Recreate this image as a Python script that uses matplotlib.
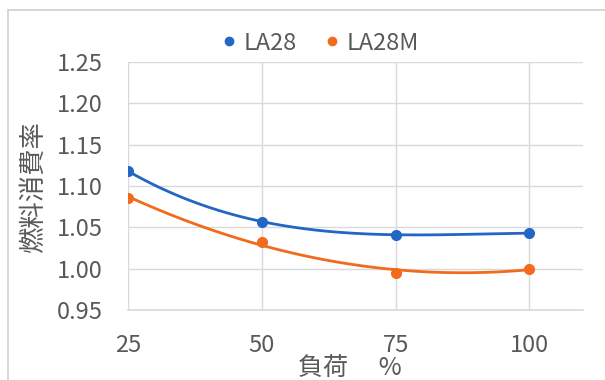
import numpy as np
import matplotlib

matplotlib.use("Agg")
import matplotlib.pyplot as plt
from matplotlib.lines import Line2D
from matplotlib.patches import Rectangle

plt.rcParams["font.family"] = ["Noto Sans CJK JP", "DejaVu Sans"]

# load (%) and relative fuel consumption for each engine
load = [25, 50, 75, 100]
la28 = [1.118, 1.057, 1.041, 1.043]
la28m = [1.086, 1.032, 0.995, 1.000]
series_names = ["LA28", "LA28M"]
series_colors = ["#2366c4", "#f26a1c"]
trend_order = [3, 2]  # polynomial order of each trendline
y_ticks = [0.95, 1.00, 1.05, 1.10, 1.15, 1.20, 1.25]
x_ticks = [25, 50, 75, 100]

TEXT = "#595959"
GRID = "#d9d9d9"

fig = plt.figure(figsize=(6.05, 3.8), dpi=100)
fig.patches.append(Rectangle((8 / 605, -0.05), 1.1, 1 - 10 / 380 + 0.05,
                             transform=fig.transFigure, fill=False,
                             edgecolor="#d0d0d0", linewidth=1.2))
ax = fig.add_axes([128 / 605, 1 - 310 / 380, 455 / 605, 248 / 380])

xs = np.linspace(load[0], load[-1], 200)
for values, color, order in zip([la28, la28m], series_colors, trend_order):
    coef = np.polyfit(load, values, order)
    ax.plot(xs, np.polyval(coef, xs), color=color, linewidth=2.0, zorder=3)
    ax.plot(load, values, "o", color=color, markersize=7, zorder=4)

ax.set_xlim(25, 110)
ax.set_ylim(0.95, 1.25)
ax.set_xticks(x_ticks)
ax.set_yticks(y_ticks)
ax.set_yticklabels([f"{v:.2f}" for v in y_ticks])
ax.grid(True, color=GRID, linewidth=1.0)
ax.set_axisbelow(True)
for side in ["top", "right", "left"]:
    ax.spines[side].set_visible(False)
ax.spines["bottom"].set_color(GRID)
ax.spines["bottom"].set_linewidth(1.2)
ax.tick_params(axis="both", length=0, labelsize=17, labelcolor=TEXT)
ax.tick_params(axis="x", pad=17)
ax.tick_params(axis="y", pad=18)

fig.text(350 / 605, 1 - 368 / 380, "負荷　 %", fontsize=18, color=TEXT,
         ha="center", va="center")
fig.text(33 / 605, 1 - 187 / 380, "燃料消費率", rotation=90, fontsize=19,
         color=TEXT, ha="center", va="center")

handles = [Line2D([], [], marker="o", linestyle="none", color=c, markersize=6)
           for c in series_colors]
fig.legend(handles, series_names, loc="center", bbox_to_anchor=(318 / 605, 1 - 43 / 380),
           ncol=2, frameon=False, fontsize=17, labelcolor=TEXT,
           handletextpad=0.1, columnspacing=1.0, handlelength=1.0)

fig.savefig("out.png", dpi=100)
